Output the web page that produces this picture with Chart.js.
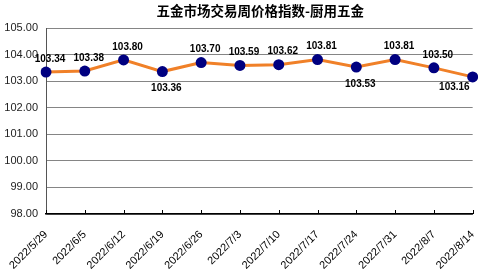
<!DOCTYPE html>
<html>
<head>
<meta charset="utf-8">
<script src="https://cdn.jsdelivr.net/npm/chart.js@4/dist/chart.umd.min.js"></script>
<style>
  html, body { margin: 0; padding: 0; background: #fff; }
  #wrap { width: 488px; height: 272px; }
</style>
</head>
<body>
<div id="wrap"><canvas id="chart" width="488" height="272"></canvas></div>
<script>
  const title = "五金市场交易周价格指数-厨用五金";
  const dates = ["2022/5/29", "2022/6/5", "2022/6/12", "2022/6/19", "2022/6/26", "2022/7/3",
    "2022/7/10", "2022/7/17", "2022/7/24", "2022/7/31", "2022/8/7", "2022/8/14"];
  const index = [103.34, 103.38, 103.80, 103.36, 103.70, 103.59, 103.62, 103.81, 103.53, 103.81, 103.50, 103.16];
  const yTicks = [98, 99, 100, 101, 102, 103, 104, 105];

  // which value labels sit under their point
  const below = [3, 8, 11];

  const font = "'Liberation Sans', Arial, sans-serif";

  // title centred over the plot area
  const titlePlugin = {
    id: "plotTitle",
    afterDraw(chart) {
      const { ctx, chartArea } = chart;
      ctx.save();
      ctx.font = "bold 13.5px 'Noto Sans CJK SC', sans-serif";
      ctx.fillStyle = "#000";
      ctx.textAlign = "center";
      ctx.textBaseline = "middle";
      ctx.fillText(title, (chartArea.left + chartArea.right) / 2 + 1, 11);
      ctx.restore();
    }
  };

  // value labels + inward tick marks on the category axis
  const labelPlugin = {
    id: "valueLabels",
    afterDatasetsDraw(chart) {
      const { ctx, chartArea } = chart;
      const meta = chart.getDatasetMeta(0);
      const xs = chart.scales.x;
      ctx.save();
      ctx.strokeStyle = "#000";
      ctx.lineWidth = 1;
      xs.ticks.forEach((t, i) => {
        const x = Math.round(xs.getPixelForTick(i)) + 0.5;
        ctx.beginPath();
        ctx.moveTo(x, chartArea.bottom);
        ctx.lineTo(x, chartArea.bottom - 4);
        ctx.stroke();
      });
      ctx.font = "bold 10px " + font;
      ctx.fillStyle = "#000";
      ctx.textBaseline = "middle";
      meta.data.forEach((pt, i) => {
        const txt = index[i].toFixed(2);
        const w = ctx.measureText(txt).width;
        let x = pt.x + 4;
        let y = below.includes(i) ? pt.y + 17 : pt.y - 13;
        if (x + w / 2 > chartArea.right) {
          x = pt.x - 3 - w / 2;
          y = pt.y + 10;
        }
        ctx.textAlign = "center";
        ctx.fillText(txt, x, y);
      });
      ctx.restore();
    }
  };

  new Chart(document.getElementById("chart"), {
    type: "line",
    data: {
      labels: dates,
      datasets: [{
        data: index,
        borderColor: "rgb(240,128,40)",
        borderWidth: 3,
        tension: 0,
        pointRadius: 5.5,
        pointHoverRadius: 5.5,
        pointBackgroundColor: "#000080",
        pointBorderColor: "#000080",
        pointBorderWidth: 0
      }]
    },
    options: {
      responsive: false,
      animation: false,
      layout: { padding: { top: 28, right: 12, left: 0, bottom: 0 } },
      plugins: {
        legend: { display: false },
        tooltip: { enabled: false }
      },
      scales: {
        x: {
          offset: false,
          grid: { display: false },
          border: { color: "#000", width: 1.5 },
          ticks: {
            color: "#000",
            font: { family: font, size: 11 },
            minRotation: 45,
            maxRotation: 45,
            autoSkip: false,
            padding: 6
          },
          afterFit(scale) { scale.height = 58; }
        },
        y: {
          min: yTicks[0],
          max: yTicks[yTicks.length - 1],
          afterBuildTicks(scale) { scale.ticks = yTicks.map(v => ({ value: v })); },
          grid: { color: "#858585", lineWidth: 1, drawTicks: false },
          border: { color: "#555", width: 1 },
          ticks: {
            color: "#222",
            font: { family: font, size: 11 },
            padding: 8,
            callback: v => Number(v).toFixed(2)
          },
          afterFit(scale) { scale.width = 46; }
        }
      }
    },
    plugins: [titlePlugin, labelPlugin]
  });
</script>
</body>
</html>
